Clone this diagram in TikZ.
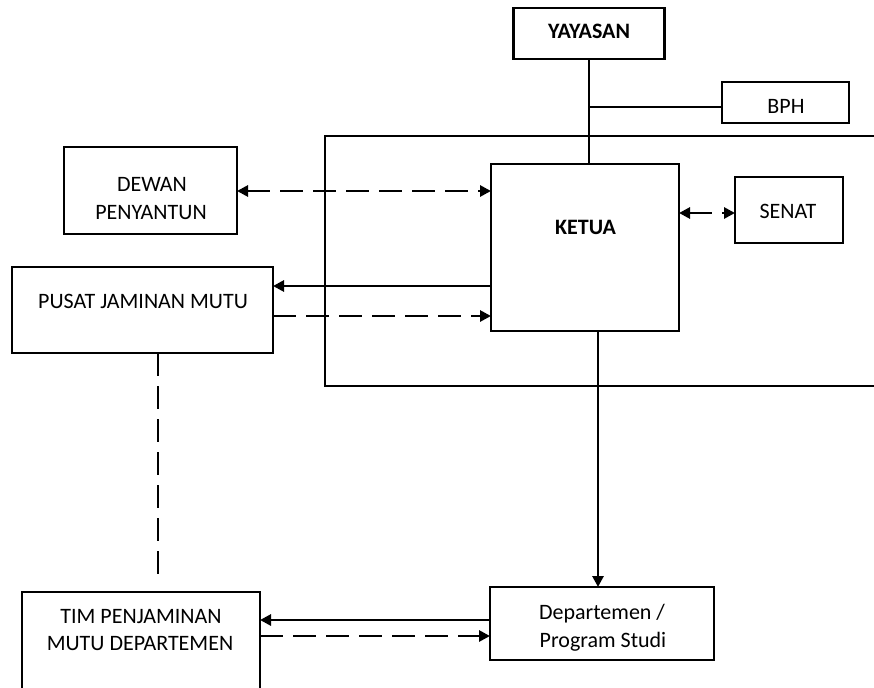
\documentclass[tikz,border=0pt]{standalone}
\usepackage{fontspec}
\setmainfont{Carlito}
\usetikzlibrary{arrows.meta}
\begin{document}
\begin{tikzpicture}[x=1pt,y=-1pt,
  box/.style={draw, line width=2.8pt, rectangle, inner sep=0pt, outer sep=0pt},
  txt/.style={anchor=base, inner sep=0pt, font=\fontsize{22}{28}\selectfont},
  btxt/.style={anchor=base, inner sep=0pt, font=\fontsize{22}{28}\selectfont\bfseries},
  conn/.style={line width=2.8pt},
  dline/.style={line width=2.8pt, dash pattern=on 23pt off 10pt},
  arr/.style={-{Triangle[length=11pt,width=11pt]}},
  darr/.style={{Triangle[length=11pt,width=11pt]}-{Triangle[length=11pt,width=11pt]}}
]
\useasboundingbox (0,0) rectangle (874,687);
\clip (0,0) rectangle (874,687);
\fill[white] (0,0) rectangle (874,687);

% frame
\draw[conn] (885,136) -- (325,136) -- (325,386) -- (885,386);

% boxes
\node[box, minimum width=151pt, minimum height=51pt] (yayasan) at (589,33.5) {};
\node[box, minimum width=127pt, minimum height=41pt] (bph) at (785.5,102.5) {};
\node[box, minimum width=188pt, minimum height=167pt] (ketua) at (585,247.5) {};
\node[box, minimum width=108pt, minimum height=66pt] (senat) at (789,210) {};
\node[box, minimum width=173pt, minimum height=87pt] (dewan) at (150.5,190.5) {};
\node[box, minimum width=261pt, minimum height=86pt] (pusat) at (142.5,310) {};
\node[box, minimum width=238pt, minimum height=108pt] (tim) at (141,646) {};
\node[box, minimum width=224pt, minimum height=73pt] (dep) at (602,623.5) {};

% texts
\node[btxt] (yayasan-t) at (589,39) {YAYASAN};
\node[txt] (bph-t) at (786,114) {BPH};
\node[btxt] (ketua-t) at (585.5,234) {KETUA};
\node[txt] (senat-t) at (788,218) {SENAT};
\node[txt] (dewan-t1) at (152,191) {DEWAN};
\node[txt] (dewan-t2) at (151,219) {PENYANTUN};
\node[txt] (pusat-t) at (143,308) {PUSAT JAMINAN MUTU};
\node[txt] (tim-t1) at (141,623) {TIM PENJAMINAN};
\node[txt] (tim-t2) at (140,650) {MUTU DEPARTEMEN};
\node[txt] (dep-t1) at (602,619) {Departemen /};
\node[txt] (dep-t2) at (603,647) {Program Studi};

% helper coordinates
\coordinate (jbph) at (589,107);
\coordinate (yd) at (0,191);
\coordinate (ys) at (0,213);
\coordinate (yp1) at (0,286);
\coordinate (yp2) at (0,316);
\coordinate (xd) at (598,0);
\coordinate (yt1) at (0,620);
\coordinate (yt2) at (0,636);
\coordinate (pe) at (158,577);

% connectors
\draw[conn] (yayasan.south) -- (yayasan.south |- ketua.north);
\draw[conn] (jbph) -- (jbph -| bph.west);
\draw[dline, darr] (dewan.east |- yd) -- (ketua.west |- yd);
\draw[dline, darr] (ketua.east |- ys) -- (senat.west |- ys);
\draw[conn, arr] (ketua.west |- yp1) -- (pusat.east |- yp1);
\draw[dline, arr] (pusat.east |- yp2) -- (ketua.west |- yp2);
\draw[conn, arr] (ketua.south -| xd) -- (dep.north -| xd);
\draw[conn, arr] (dep.west |- yt1) -- (tim.east |- yt1);
\draw[dline, arr] (tim.east |- yt2) -- (dep.west |- yt2);
\draw[dline] (pusat.south -| pe) -- (pe);
\end{tikzpicture}
\end{document}
